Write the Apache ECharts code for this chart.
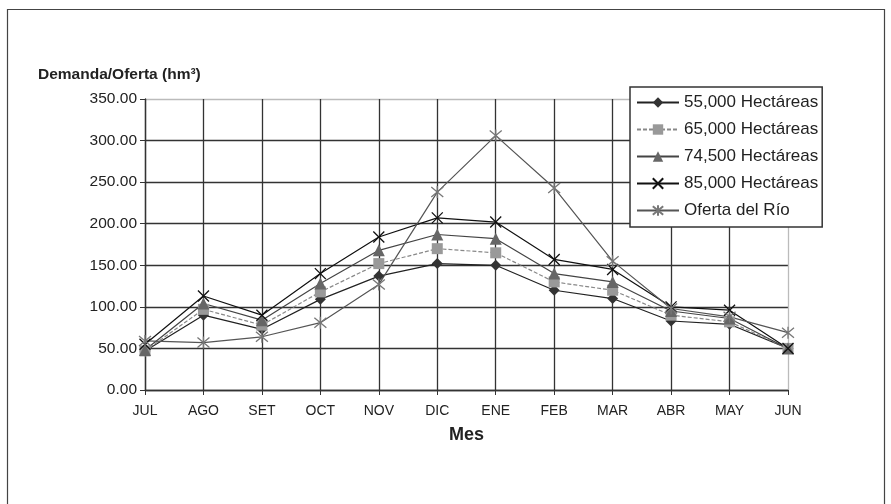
<!DOCTYPE html>
<html>
<head>
<meta charset="utf-8">
<script src="https://cdn.jsdelivr.net/npm/echarts@6/dist/echarts.min.js"></script>
<style>html,body{margin:0;padding:0;background:#fff}#c{width:891px;height:504px}</style>
</head>
<body>
<div id="c"></div>
<script>
const months = ['JUL','AGO','SET','OCT','NOV','DIC','ENE','FEB','MAR','ABR','MAY','JUN'];
const seriesNames = ['55,000 Hectáreas','65,000 Hectáreas','74,500 Hectáreas','85,000 Hectáreas','Oferta del Río'];
const ha55000 = [47, 90, 73, 109, 137, 152, 150, 120, 110, 83, 79, 50];
const ha65000 = [47, 97, 78, 118, 152, 170, 165, 130, 120, 90, 82, 50];
const ha74500 = [48, 104, 84, 128, 168, 187, 182, 140, 130, 95, 86, 50];
const ha85000 = [55, 113, 90, 140, 184, 207, 202, 157, 145, 100, 96, 50];
const ofertaRio = [59, 57, 64, 81, 127, 238, 306, 243, 155, 98, 88, 69];
const yTicks = [0, 50, 100, 150, 200, 250, 300, 350];

const chart = echarts.init(document.getElementById('c'), null, {renderer:'canvas'});
const FONT = 'Liberation Sans, Arial, sans-serif';
const X_PATH = 'path://M0,0L10,10M10,0L0,10';
const STAR_PATH = 'path://M0,0L10,10M10,0L0,10M5,-1L5,11';

function mk(name, data, lineColor, symbol, size, symColor, stroke, dashed) {
  return {
    name: name, type: 'line', data: data, symbol: symbol, symbolSize: size,
    showAllSymbol: true,
    lineStyle: {color: lineColor, width: 1.2, type: dashed ? [4,2] : 'solid'},
    itemStyle: stroke ? {color: 'rgba(0,0,0,0)', borderColor: symColor, borderWidth: 1.3}
                      : {color: symColor, borderWidth: 0},
    emphasis: {disabled: true},
    animation: false
  };
}

const gridSplitY = yTicks.map((v,i)=> i === yTicks.length-1 ? '#bbb' : '#333');
const gridSplitX = months.map((m,i)=> i === months.length-1 ? '#bbb' : '#333');

chart.setOption({
  backgroundColor: '#fff',
  animation: false,
  textStyle: {fontFamily: FONT},
  grid: {left: 145, right: 103, top: 99, bottom: 114, containLabel: false},
  legend: {
    orient: 'vertical', left: 630, top: 87,
    itemWidth: 42, itemHeight: 13, itemGap: 10,
    padding: [7, 4, 8, 6],
    borderColor: '#333', borderWidth: 1.5, backgroundColor: '#fff',
    textStyle: {fontSize: 17, lineHeight: 17, color: '#222', fontFamily: FONT},
    data: seriesNames
  },
  xAxis: {
    type: 'category', data: months, boundaryGap: false,
    name: 'Mes', nameLocation: 'middle', nameGap: 36,
    nameTextStyle: {fontSize: 18, fontWeight: 'bold', color: '#222', fontFamily: FONT},
    axisLine: {lineStyle: {color: '#333', width: 1.3}},
    axisTick: {show: true, length: 5, inside: false, lineStyle: {color: '#333'}, alignWithLabel: true},
    axisLabel: {fontSize: 14, color: '#222', margin: 14, fontFamily: FONT, interval: 0},
    splitLine: {show: true, lineStyle: {color: gridSplitX, width: 1.3}}
  },
  yAxis: {
    type: 'value', min: 0, max: 350, interval: 50,
    axisLine: {show: true, lineStyle: {color: '#333', width: 1.3}},
    axisTick: {show: true, length: 5, lineStyle: {color: '#333'}},
    axisLabel: {fontSize: 15.5, color: '#222', margin: 8, fontFamily: FONT,
      formatter: v => v.toFixed(2)},
    splitLine: {show: true, lineStyle: {color: gridSplitY, width: 1.3}}
  },
  graphic: [
    {type: 'rect', shape: {x: 7.5, y: 9.5, width: 877, height: 500}, style: {fill: 'none', stroke: '#444', lineWidth: 1.2}, silent: true},
    {type: 'text', left: 38, top: 67, style: {text: 'Demanda/Oferta (hm³)', font: 'bold 15.5px ' + FONT, fill: '#222'}}
  ],
  series: [
    mk(seriesNames[0], ha55000, '#222', 'diamond', 11, '#333', false, false),
    mk(seriesNames[1], ha65000, '#888', 'rect', 11, '#999', false, true),
    mk(seriesNames[2], ha74500, '#444', 'triangle', 12, '#666', false, false),
    mk(seriesNames[3], ha85000, '#111', X_PATH, 11, '#111', true, false),
    mk(seriesNames[4], ofertaRio, '#555', STAR_PATH, 12, '#777', true, false)
  ]
});
</script>
</body>
</html>
